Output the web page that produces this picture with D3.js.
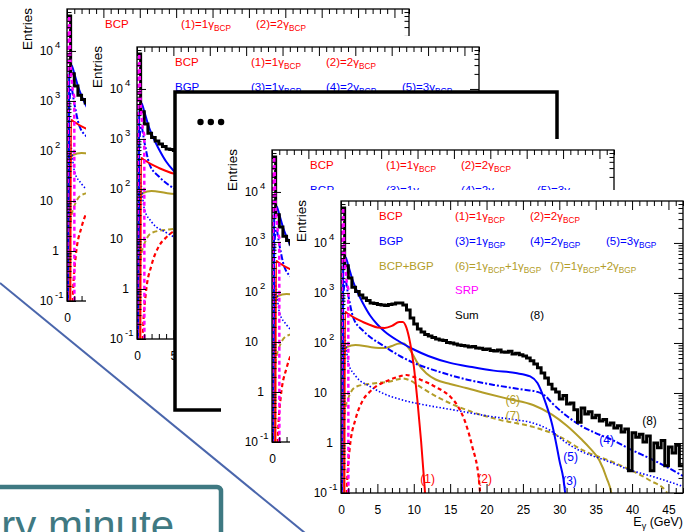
<!DOCTYPE html>
<html>
<head>
<meta charset="utf-8">
<script src="https://cdn.jsdelivr.net/npm/d3@7"></script>
<style>
  body { margin: 0; background: #fff; }
  text { font-family: "Liberation Sans", Arial, sans-serif; }
</style>
</head>
<body>
<svg id="chart" width="690" height="532"></svg>
<script>
// ---- data (E in GeV, entries) ----
const sumBinWidth = 0.5;
const sumEntries = [50000,3500,2000,1300,1070,910,790,710,630,615,
  590,575,560,590,600,630,630,575,455,315,
  240,190,165,148,138,129,120,115,112,102,
  100,95,91,89,87,83,85,79,78,74,
  76,71,69,72,66,65,68,60,62,58,
  55,50,44,38,32,25,20,15,12,10.5,
  7.6,8.9,6.0,6.3,4.6,2.6,5.0,3.8,4.2,3.2,
  3.6,2.75,2.95,2.3,2.5,2.0,2.2,1.66,1.9,0.28,
  1.6,1.3,1.5,1.05,1.38,0.28,1.0,0.8,1.12,0.35,
  0.83,0.63,0.9,0.35];

const bcp1E = [0.45,0.55,1,2,3,4,5,6,7,8,8.5,9,9.5,10,10.5,11,11.5,12];
const bcp1N = [0.01,417,380,309,263,229,204,200,219,263,263,200,100,35,7.1,1.12,0.126,0.01];

const bcp2E = [0.7,0.8,1.2,2,3,4,5,6,7,8,9,10,11,12,13,14,15,16,17,18,19,19.5];
const bcp2N = [0.01,0.115,0.79,3.0,7.1,10.7,14.1,16.6,19.1,21.4,22.9,20.9,18.2,15.8,13.2,11.0,8.5,5.6,2.8,0.89,0.16,0.01];

const bgp3E = [0.1,0.3,0.6,1,1.5,2,3,4,5,6,8,10,12,15,18,21,24,26,27,28,29,30,30.8,31.2];
const bgp3N = [0.01,3162,5248,3548,1995,1259,631,355,234,170,107,74,55,40,33,28,25,21.4,15.8,7.1,2.4,0.46,0.1,0.01];

const bgp4E = [0.1,0.35,0.6,1,1.7,3,4,6,8,10,13,17,21,25,27,28,29,31,33,35,37,40,43,47];
const bgp4N = [0.01,1000,1778,891,316,178,132,85,56,40,28,19,14.5,11.7,10.5,8.9,6.3,3.5,2.2,1.58,1.2,0.72,0.45,0.22];

const bgp5E = [0.1,0.35,0.6,1,2,4,6,8.5,12,15.4,20,24,26,28.7,31,33,36,40,43,47];
const bgp5N = [0.01,158,112,40,22,13.5,9.5,7.2,5.6,4.6,3.5,2.9,2.6,1.8,1.0,0.68,0.47,0.28,0.21,0.135];

const mix6E = [0.2,0.4,0.8,2,4,6,7,8,8.6,9.5,10.5,11.75,13,15,17.2,20,23,26.4,29,31,33,34.2,35.5,36.5,37.2,37.5];
const mix6N = [0.01,50,83,91,83,79,87,98,98,72,40,24.5,18.6,15.1,12.6,9.8,7.6,5.75,3.7,2.24,1.2,0.79,0.45,0.2,0.089,0.01];

const mix7E = [0.2,0.4,1,2.15,4.4,6.7,8.5,9.5,10.8,13.6,17.2,21.8,26.4,30,33.2,37.8,42.4,44.7,45.5];
const mix7N = [0.01,3.2,7.9,13.5,15.5,17,19.5,17.8,13.5,7.8,4.6,2.9,2.1,1.35,0.72,0.39,0.18,0.107,0.01];

const srpE = [0,0.15,0.3,0.45,0.6,0.8,1.0,1.02];
const srpN = [0.01,20000,50000,8000,3000,1600,1200,0.01];

const xTickLabels = [0,5,10,15,20,25,30,35,40,45];
const yTickExps = [-1,0,1,2,3,4];

const legendRows = [
  ["BCP", "(1)=1γ_{BCP}", "(2)=2γ_{BCP}"],
  ["BGP", "(3)=1γ_{BGP}", "(4)=2γ_{BGP}", "(5)=3γ_{BGP}"],
  ["BCP+BGP", "(6)=1γ_{BCP}+1γ_{BGP}", "(7)=1γ_{BCP}+2γ_{BGP}"],
  ["", "SRP"],
  ["", "Sum", "(8)"]
];
const curveTags = ["(1)","(2)","(3)","(4)","(5)","(6)","(7)","(8)"];
const curveTagE = [11.9,19.75,31.4,36.5,31.55,23.6,23.6,42.4];
const curveTagN = [0.19,0.19,0.17,1.15,0.52,7.2,3.5,2.75];

// ---- styles / layout ----
const red = "#ff0000", blue = "#0000ff", olive = "#b39d28", magenta = "#ff00ff";
const rowColors = [red, blue, olive, magenta, "#000"];
const legendColX = [[38,114,189],[38,114,189,265],[38,114,209],[38,114],[38,114,189]];
const tagColors = [red, red, blue, blue, blue, olive, olive, "#000"];
const curves = [
  {e: mix7E, n: mix7N, color: olive, dash: "5,3", w: 2},
  {e: mix6E, n: mix6N, color: olive, dash: null, w: 2},
  {e: bgp5E, n: bgp5N, color: blue, dash: "1.5,2", w: 1.6},
  {e: bgp4E, n: bgp4N, color: blue, dash: "6,2,2,2", w: 2},
  {e: bgp3E, n: bgp3N, color: blue, dash: null, w: 2},
  {e: bcp2E, n: bcp2N, color: red, dash: "4,3", w: 2.2},
  {e: bcp1E, n: bcp1N, color: red, dash: null, w: 2},
];

const frameW = 342, frameH = 292;
const cardW = 430, cardH = 358;
const x = d3.scaleLinear().domain([0, 47]).range([0, frameW]);
const y = d3.scaleLog().domain([0.1, 69000]).range([frameH, 0]);

const svg = d3.select("#chart");
const layers = [];   // {g, cover: absolute rect that hides earlier layers}

function richText(sel, str, size) {
  const parts = str.split(/_\{([^}]*)\}/);
  parts.forEach((p, i) => {
    if (!p) return;
    const t = sel.append("tspan").text(p);
    if (i % 2) t.attr("font-size", size * 0.72).attr("dy", 3);
    else if (i > 0) t.attr("dy", -3);
  });
}

function drawPanel(left, top, idx) {
  const g = svg.append("g").attr("transform", `translate(${left},${top})`);
  layers.push({g, cover: {x: left - 51, y: top - 11, w: cardW, h: cardH}});
  // white card hides whatever is behind
  g.append("rect").attr("x", -51).attr("y", -11)
    .attr("width", cardW).attr("height", cardH).attr("fill", "#fff");

  const cid = "clip" + idx;
  g.append("clipPath").attr("id", cid)
    .append("rect").attr("width", frameW).attr("height", frameH);

  // legend text
  legendRows.forEach((row, r) => {
    row.forEach((s, c) => {
      if (!s) return;
      const t = g.append("text")
        .attr("x", legendColX[r][c]).attr("y", 19 + r * 24.8)
        .attr("font-size", 11.5).attr("fill", rowColors[r]);
      richText(t, s, 11.5);
    });
  });

  const plot = g.append("g").attr("clip-path", `url(#${cid})`);

  const line = d3.line().x(d => x(d[0])).y(d => y(d[1])).curve(d3.curveMonotoneX);
  curves.forEach(c => {
    plot.append("path")
      .datum(c.e.map((e, i) => [e, c.n[i]]))
      .attr("d", line)
      .attr("fill", "none").attr("stroke", c.color).attr("stroke-width", c.w)
      .attr("stroke-dasharray", c.dash);
  });

  // summed histogram
  const sumPts = sumEntries.map((v, i) => [i * sumBinWidth, v]);
  sumPts.push([sumEntries.length * sumBinWidth, sumEntries[sumEntries.length - 1]]);
  plot.append("path")
    .datum(sumPts)
    .attr("d", d3.line().x(d => x(d[0])).y(d => y(Math.max(d[1], 0.02))).curve(d3.curveStepAfter))
    .attr("fill", "none").attr("stroke", "#000").attr("stroke-width", 3);

  // SRP
  plot.append("path")
    .datum(srpE.map((e, i) => [e, srpN[i]]))
    .attr("d", d3.line().x(d => x(d[0])).y(d => y(d[1])))
    .attr("fill", "none").attr("stroke", magenta).attr("stroke-width", 2.5)
    .attr("stroke-dasharray", "4,3");

  // curve tags
  curveTags.forEach((t, i) => {
    g.append("text").attr("x", x(curveTagE[i])).attr("y", y(curveTagN[i]) + 4)
      .attr("text-anchor", "middle").attr("font-size", 12)
      .attr("fill", tagColors[i]).text(t);
  });

  // axes
  const minorX = d3.range(0, 48, 1).filter(v => v % 5 !== 0);
  const ax = g.append("g").attr("class", "axes");
  const style = s => { s.select(".domain").remove(); s.selectAll("line").attr("stroke", "#000").attr("stroke-width", 1); };
  ax.append("g").attr("transform", `translate(0,${frameH})`)
    .call(d3.axisBottom(x).tickValues(xTickLabels).tickSize(-9).tickPadding(12).tickFormat(d3.format("d")))
    .call(style)
    .call(s => s.selectAll("text").attr("font-size", 12).attr("fill", "#000").attr("font-family", null));
  ax.append("g").attr("transform", `translate(0,${frameH})`)
    .call(d3.axisBottom(x).tickValues(minorX).tickSize(-5).tickFormat("")).call(style);
  ax.append("g").call(d3.axisTop(x).tickValues(xTickLabels).tickSize(-9).tickFormat("")).call(style);
  ax.append("g").call(d3.axisTop(x).tickValues(minorX).tickSize(-5).tickFormat("")).call(style);

  const majorY = yTickExps.map(e => Math.pow(10, e));
  const minorY = [];
  majorY.forEach(m => d3.range(2, 10).forEach(k => { if (m * k < 69000) minorY.push(m * k); }));
  [["axisLeft", 0], ["axisRight", frameW]].forEach(([fn, tx]) => {
    ax.append("g").attr("transform", `translate(${tx},0)`)
      .call(d3[fn](y).tickValues(majorY).tickSize(-9).tickFormat("")).call(style);
    ax.append("g").attr("transform", `translate(${tx},0)`)
      .call(d3[fn](y).tickValues(minorY).tickSize(-4.5).tickFormat("")).call(style);
  });

  // y tick labels, ROOT style 10^n
  yTickExps.forEach(e => {
    const ty = y(Math.pow(10, e)) + 4;
    if (e === 0) {
      g.append("text").attr("x", -8).attr("y", ty).attr("text-anchor", "end").attr("font-size", 12).text("1");
    } else {
      g.append("text").attr("x", -14).attr("y", ty).attr("text-anchor", "end").attr("font-size", 12).text("10");
      if (e !== 1) {
        g.append("text").attr("x", -12).attr("y", ty - 7).attr("font-size", 9.5).text(e);
      }
    }
  });

  // frame
  g.append("rect").attr("width", frameW).attr("height", frameH)
    .attr("fill", "none").attr("stroke", "#000").attr("stroke-width", 1.3);

  // axis titles
  g.append("text").attr("transform", `translate(-35,-1) rotate(-90)`)
    .attr("text-anchor", "end").attr("font-size", 13.5).text("Entries");
  const xt = g.append("text").attr("x", frameW).attr("y", frameH + 33)
    .attr("text-anchor", "end").attr("font-size", 12.5);
  richText(xt, "E_{γ} (GeV)", 12.5);
}

// back to front
drawPanel(67, 9, 1);
drawPanel(137, 47, 2);

// placeholder slide with dots
const box = svg.append("g");
layers.push({g: box, cover: {x: 175, y: 92, w: 382, h: 318}});
box.append("rect").attr("x", 175).attr("y", 92).attr("width", 382).attr("height", 318)
  .attr("fill", "#fff").attr("stroke", "#000").attr("stroke-width", 3.5);
box.selectAll("circle").data(d3.range(3)).join("circle")
  .attr("cx", i => 200.5 + i * 10.3).attr("cy", 122).attr("r", 3.2).attr("fill", "#000");

drawPanel(272, 150, 4);
drawPanel(341, 201, 5);

// texts fully hidden under a later slide are dropped
layers.forEach((layer, li) => {
  const later = layers.slice(li + 1).map(l => l.cover);
  layer.g.selectAll("text").each(function () {
    const b = this.getBBox(), m = this.getCTM();
    const pts = [[b.x, b.y], [b.x + b.width, b.y], [b.x, b.y + b.height], [b.x + b.width, b.y + b.height]]
      .map(([px, py]) => [m.a * px + m.c * py + m.e, m.b * px + m.d * py + m.f]);
    const hidden = later.some(r => pts.every(([px, py]) => px >= r.x && px <= r.x + r.w && py >= r.y && py <= r.y + r.h));
    if (hidden) d3.select(this).remove();
  });
});

// slide decorations
svg.append("line").attr("x1", 0).attr("y1", 283).attr("x2", 305).attr("y2", 533)
  .attr("stroke", "#4a66ac").attr("stroke-width", 2);
svg.append("rect").attr("x", -20).attr("y", 487).attr("width", 241).attr("height", 80).attr("rx", 4)
  .attr("fill", "#fff").attr("stroke", "#3f7982").attr("stroke-width", 4.5);
svg.append("text").attr("x", 174).attr("y", 540).attr("text-anchor", "end")
  .attr("font-family", "'Open Sans', sans-serif").attr("font-size", 42).attr("fill", "#3f7982")
  .text("Every minute");
</script>
</body>
</html>
